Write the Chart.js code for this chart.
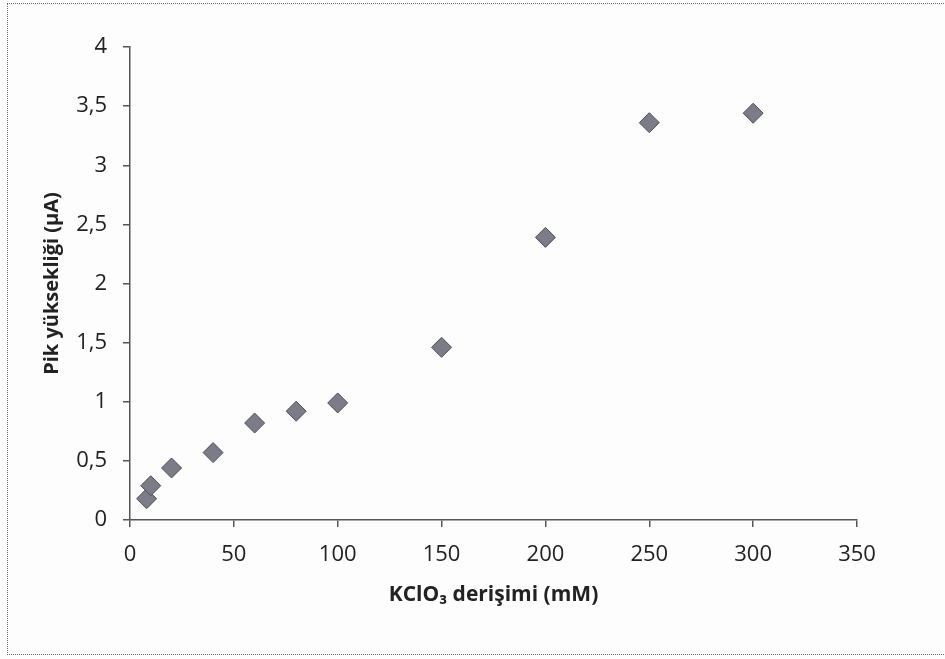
<!DOCTYPE html>
<html>
<head>
<meta charset="utf-8">
<script src="https://cdn.jsdelivr.net/npm/chart.js@4"></script>
<style>
  html, body { margin: 0; padding: 0; background: #fdfdfd; overflow: hidden; }
  #wrap { position: relative; width: 945px; height: 659px; }
  #frame { position: absolute; left: 7px; top: 3px; width: 945px; height: 652px; border: 1px dotted #6a6a6a; box-sizing: border-box; }
  canvas { position: absolute; left: 0; top: 0; }
</style>
</head>
<body>
<div id="wrap">
  <div id="frame"></div>
  <canvas id="scatter" width="945" height="659"></canvas>
</div>
<script>
// KClO3 concentration (mM) vs peak height (µA)
const concentration = [8, 10, 20, 40, 60, 80, 100, 150, 200, 250, 300];
const peakHeight = [0.18, 0.29, 0.44, 0.57, 0.82, 0.92, 0.99, 1.46, 2.39, 3.36, 3.44];
const xTicks = [0, 50, 100, 150, 200, 250, 300, 350];
const yTicks = [0, 0.5, 1, 1.5, 2, 2.5, 3, 3.5, 4];

const FONT = "'Open Sans', 'DejaVu Sans', sans-serif";
const AXIS = "#555555";

const points = concentration.map((c, i) => ({ x: c, y: peakHeight[i] }));

const CHART = document.getElementById("scatter");

let scatter = new Chart(CHART, {
  type: 'scatter',
  data: {
    datasets: [{
      label: "Pik yüksekliği",
      data: points,
      pointStyle: 'rectRot',
      pointRadius: 10,
      pointHoverRadius: 10,
      backgroundColor: "#7b7c87",
      borderColor: "#4d4e58",
      borderWidth: 1
    }]
  },
  options: {
    responsive: false,
    animation: false,
    layout: { padding: { left: 0, top: 47, right: 88, bottom: 0 } },
    plugins: {
      legend: { display: false },
      tooltip: { enabled: false }
    },
    scales: {
      x: {
        type: 'linear',
        min: 0,
        max: 350,
        afterBuildTicks: (s) => { s.ticks = xTicks.map(v => ({ value: v })); },
        afterFit: (s) => { s.height = 139; },
        grid: { drawOnChartArea: false, tickLength: 7, color: AXIS, lineWidth: 1.5 },
        border: { color: AXIS, width: 1.5 },
        ticks: { color: "#222", padding: 15, maxRotation: 0, font: { family: FONT, size: 22 } },
        title: {
          display: true,
          text: "KClO₃ derişimi (mM)",
          color: "#222",
          font: { family: FONT, size: 21, weight: 'bold' },
          padding: { top: 0, bottom: 51 }
        }
      },
      y: {
        type: 'linear',
        min: 0,
        max: 4,
        afterBuildTicks: (s) => { s.ticks = yTicks.map(v => ({ value: v })); },
        afterFit: (s) => { s.width = 130; },
        grid: { drawOnChartArea: false, tickLength: 7, color: AXIS, lineWidth: 1.5 },
        border: { color: AXIS, width: 1.5 },
        ticks: {
          color: "#222",
          padding: 16,
          font: { family: FONT, size: 22 },
          callback: (v) => String(v).replace('.', ',')
        },
        title: {
          display: true,
          text: "Pik yüksekliği (µA)",
          color: "#222",
          font: { family: FONT, size: 20, weight: 'bold' },
          padding: { top: 40, bottom: 0 }
        }
      }
    }
  }
});
</script>
</body>
</html>
